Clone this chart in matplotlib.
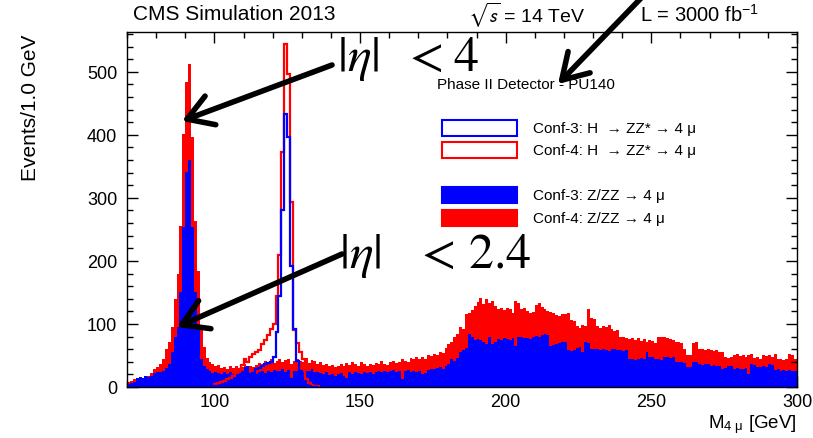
import numpy as np
import matplotlib
matplotlib.use("Agg")
import matplotlib.pyplot as plt
from matplotlib.patches import Rectangle
from matplotlib.ticker import MultipleLocator

plt.rcParams['font.family'] = ['Liberation Sans', 'DejaVu Sans']
plt.rcParams['mathtext.fontset'] = 'stix'

# ---- data: 1 GeV bins from 70 to 300 GeV ----
mass_edges = np.arange(70, 301)

conf4_zz = [
    8, 10, 12, 12, 13, 12, 14, 18, 22, 28,
    32, 36, 45, 60, 72, 95, 140, 180, 255, 402,
    484, 513, 397, 264, 184, 95, 63, 46, 40, 36,
    33, 35, 30, 32, 28, 34, 30, 33, 28, 32,
    36, 30, 34, 31, 35, 38, 36, 42, 40, 44,
    38, 42, 45, 40, 43, 44, 36, 41, 45, 42,
    40, 46, 38, 43, 41, 37, 39, 35, 36, 33,
    35, 32, 34, 37, 33, 38, 35, 40, 37, 34,
    39, 36, 33, 37, 35, 38, 36, 41, 37, 35,
    39, 42, 38, 40, 44, 42, 39, 46, 44, 48,
    45, 47, 44, 51, 49, 53, 50, 56, 54, 62,
    68, 72, 80, 84, 95, 92, 115, 118, 122, 128,
    135, 141, 132, 139, 134, 137, 128, 124, 126, 122,
    125, 123, 118, 136, 133, 124, 126, 121, 118, 119,
    130, 133, 127, 124, 120, 119, 118, 114, 112, 116,
    115, 117, 106, 104, 96, 94, 98, 97, 124, 110,
    108, 96, 94, 96, 95, 98, 92, 89, 90, 79,
    80, 77, 76, 78, 75, 77, 73, 76, 72, 74,
    73, 70, 79, 80, 79, 78, 76, 75, 71, 72,
    70, 60, 51, 50, 70, 72, 60, 61, 58, 60,
    59, 57, 58, 55, 56, 48, 46, 48, 50, 52,
    49, 50, 48, 51, 52, 46, 48, 45, 50, 49,
    51, 47, 53, 44, 45, 43, 45, 52, 51, 44,
]

conf3_zz = [
    5, 6, 8, 14, 16, 15, 17, 16, 18, 22,
    24, 23, 26, 30, 36, 55, 80, 95, 150, 254,
    341, 360, 254, 150, 90, 45, 33, 28, 25, 22,
    24, 22, 21, 24, 20, 23, 21, 24, 22, 25,
    31, 33, 22, 24, 21, 23, 25, 22, 26, 24,
    27, 25, 26, 28, 24, 27, 15, 26, 25, 27,
    24, 26, 25, 28, 23, 24, 22, 21, 23, 19,
    21, 18, 20, 22, 17, 15, 23, 21, 24, 22,
    20, 23, 22, 24, 21, 23, 25, 24, 26, 23,
    25, 27, 24, 26, 13, 25, 27, 24, 26, 23,
    25, 21, 22, 27, 29, 28, 30, 31, 29, 33,
    36, 44, 42, 46, 55, 58, 62, 84, 80, 74,
    76, 74, 71, 68, 79, 68, 72, 76, 75, 78,
    76, 74, 77, 65, 79, 80, 78, 77, 76, 80,
    81, 79, 83, 84, 82, 65, 66, 68, 70, 71,
    72, 58, 57, 59, 62, 63, 55, 72, 70, 60,
    61, 60, 59, 61, 58, 57, 60, 61, 58, 59,
    57, 58, 44, 45, 43, 44, 46, 44, 55, 47,
    48, 44, 45, 43, 47, 48, 46, 47, 39, 40,
    39, 38, 31, 32, 39, 40, 36, 35, 37, 36,
    34, 35, 33, 34, 29, 30, 34, 33, 29, 30,
    28, 29, 30, 21, 36, 35, 31, 32, 33, 32,
    36, 35, 27, 28, 26, 27, 26, 27, 25, 26,
]

# Higgs signal, 1 GeV bins from 100 to 136 GeV
h_edges = np.arange(100, 137)
conf4_h = [5, 6, 8, 10, 12, 15, 18, 22, 28, 35,
           44, 40, 48, 52, 55, 58, 68, 75, 82, 92,
           100, 145, 210, 373, 544, 497, 293, 90, 70, 55,
           45, 12, 6, 3, 2, 1]
conf3_h = [1, 1, 2, 2, 3, 3, 4, 5, 6, 8,
           10, 14, 18, 22, 28, 30, 33, 36, 38, 40,
           47, 87, 145, 280, 433, 396, 192, 92, 42, 25,
           8, 3, 1, 0, 0, 0]

legend_labels = ["Conf-3: H  \u2192 ZZ* \u2192 4 \u03bc",
                 "Conf-4: H  \u2192 ZZ* \u2192 4 \u03bc",
                 "Conf-3: Z/ZZ \u2192 4 \u03bc",
                 "Conf-4: Z/ZZ \u2192 4 \u03bc"]

RED = '#ff0000'
BLUE = '#0000ff'

fig = plt.figure(figsize=(8.13, 4.39), dpi=100)
ax = fig.add_axes([127/813, 51/439, 670/813, 355/439])

ax.stairs(conf4_zz, mass_edges, fill=True, color=RED, zorder=1)
ax.stairs(conf3_zz, mass_edges, fill=True, color=BLUE, zorder=2)
ax.stairs(conf4_h, h_edges, fill=False, color=RED, lw=1.6, baseline=0, zorder=3)
ax.stairs(conf3_h, h_edges, fill=False, color=BLUE, lw=1.6, baseline=0, zorder=4)

ax.set_xlim(70, 300)
ax.set_ylim(0, 563)
ax.xaxis.set_major_locator(MultipleLocator(50))
ax.xaxis.set_minor_locator(MultipleLocator(10))
ax.yaxis.set_major_locator(MultipleLocator(100))
ax.yaxis.set_minor_locator(MultipleLocator(20))
ax.tick_params(which='both', direction='in', top=True, right=True, width=1)
ax.tick_params(which='major', length=8, labelsize=13)
ax.tick_params(axis='x', which='major', pad=4)
ax.tick_params(axis='y', which='major', pad=7)
ax.tick_params(which='minor', length=4.5)
for s in ax.spines.values():
    s.set_linewidth(1)

# y / x labels
fig.text(31/813, (439-35)/439, "Events/1.0 GeV", rotation=90, ha='center', va='top', fontsize=15)
fig.text(797/813, (439-425)/439, "M$_{\\mathregular{4\\ \u03bc}}$ [GeV]", ha='right', va='center',
         fontsize=13.5)

# header
fig.text(133/813, (439-15)/439, "CMS Simulation 2013", ha='left', va='center', fontsize=15)
fig.text(468/813, (439-15)/439, "$\\sqrt{\\mathsf{s}}$ = 14 TeV", ha='left', va='center', fontsize=14)
fig.text(640/813, (439-15)/439, "L = 3000 fb$^{\\mathregular{-1}}$", ha='left', va='center', fontsize=14.5)

# detector text
ax.text((437-127)/670, (388-85)/355, "Phase II Detector - PU140", transform=ax.transAxes,
        ha='left', va='center', fontsize=11, zorder=5)

# legend (manual)
box_y = [129, 151, 196, 219]
styles = [dict(fill=False, edgecolor=BLUE), dict(fill=False, edgecolor=RED),
          dict(fill=True, facecolor=BLUE, edgecolor=BLUE), dict(fill=True, facecolor=RED, edgecolor=RED)]
for yc, st, lab in zip(box_y, styles, legend_labels):
    fy = (388-yc)/355
    ax.add_patch(Rectangle(((442-127)/670, fy-8/355), 75/670, 16/355, transform=ax.transAxes,
                           lw=1.5, zorder=6, **st))
    ax.text((533-127)/670, fy, lab, transform=ax.transAxes, ha='left', va='center',
            fontsize=11, zorder=6)

# big annotations (pieces placed separately to mimic the wide spacing)
big = dict(transform=ax.transAxes, ha='left', va='baseline', fontsize=36, zorder=7)
for txt, xpix, ypix in [(r"$|\eta|$", 337, 71), (r"$<$", 402, 71), (r"$4$", 453, 71),
                        (r"$|\eta|$", 339, 268), (r"$<$", 414, 268), (r"$2.4$", 468, 268)]:
    ax.text((xpix-127)/670, (388-ypix)/355, txt, **big)

arrow_kw = dict(arrowstyle='->, head_length=0.9, head_width=0.55', lw=4, color='black',
                mutation_scale=20, shrinkA=0, shrinkB=0)
for tail, tip in [((332, 439-66), (182, 439-122)),
                  ((342, 439-255), (177, 439-328)),
                  ((645, 439+5), (558, 439-85))]:
    ax.annotate("", xy=tip, xycoords='figure pixels', xytext=tail, textcoords='figure pixels',
                arrowprops=arrow_kw, annotation_clip=False, zorder=8)

fig.savefig("out.png", dpi=100)
